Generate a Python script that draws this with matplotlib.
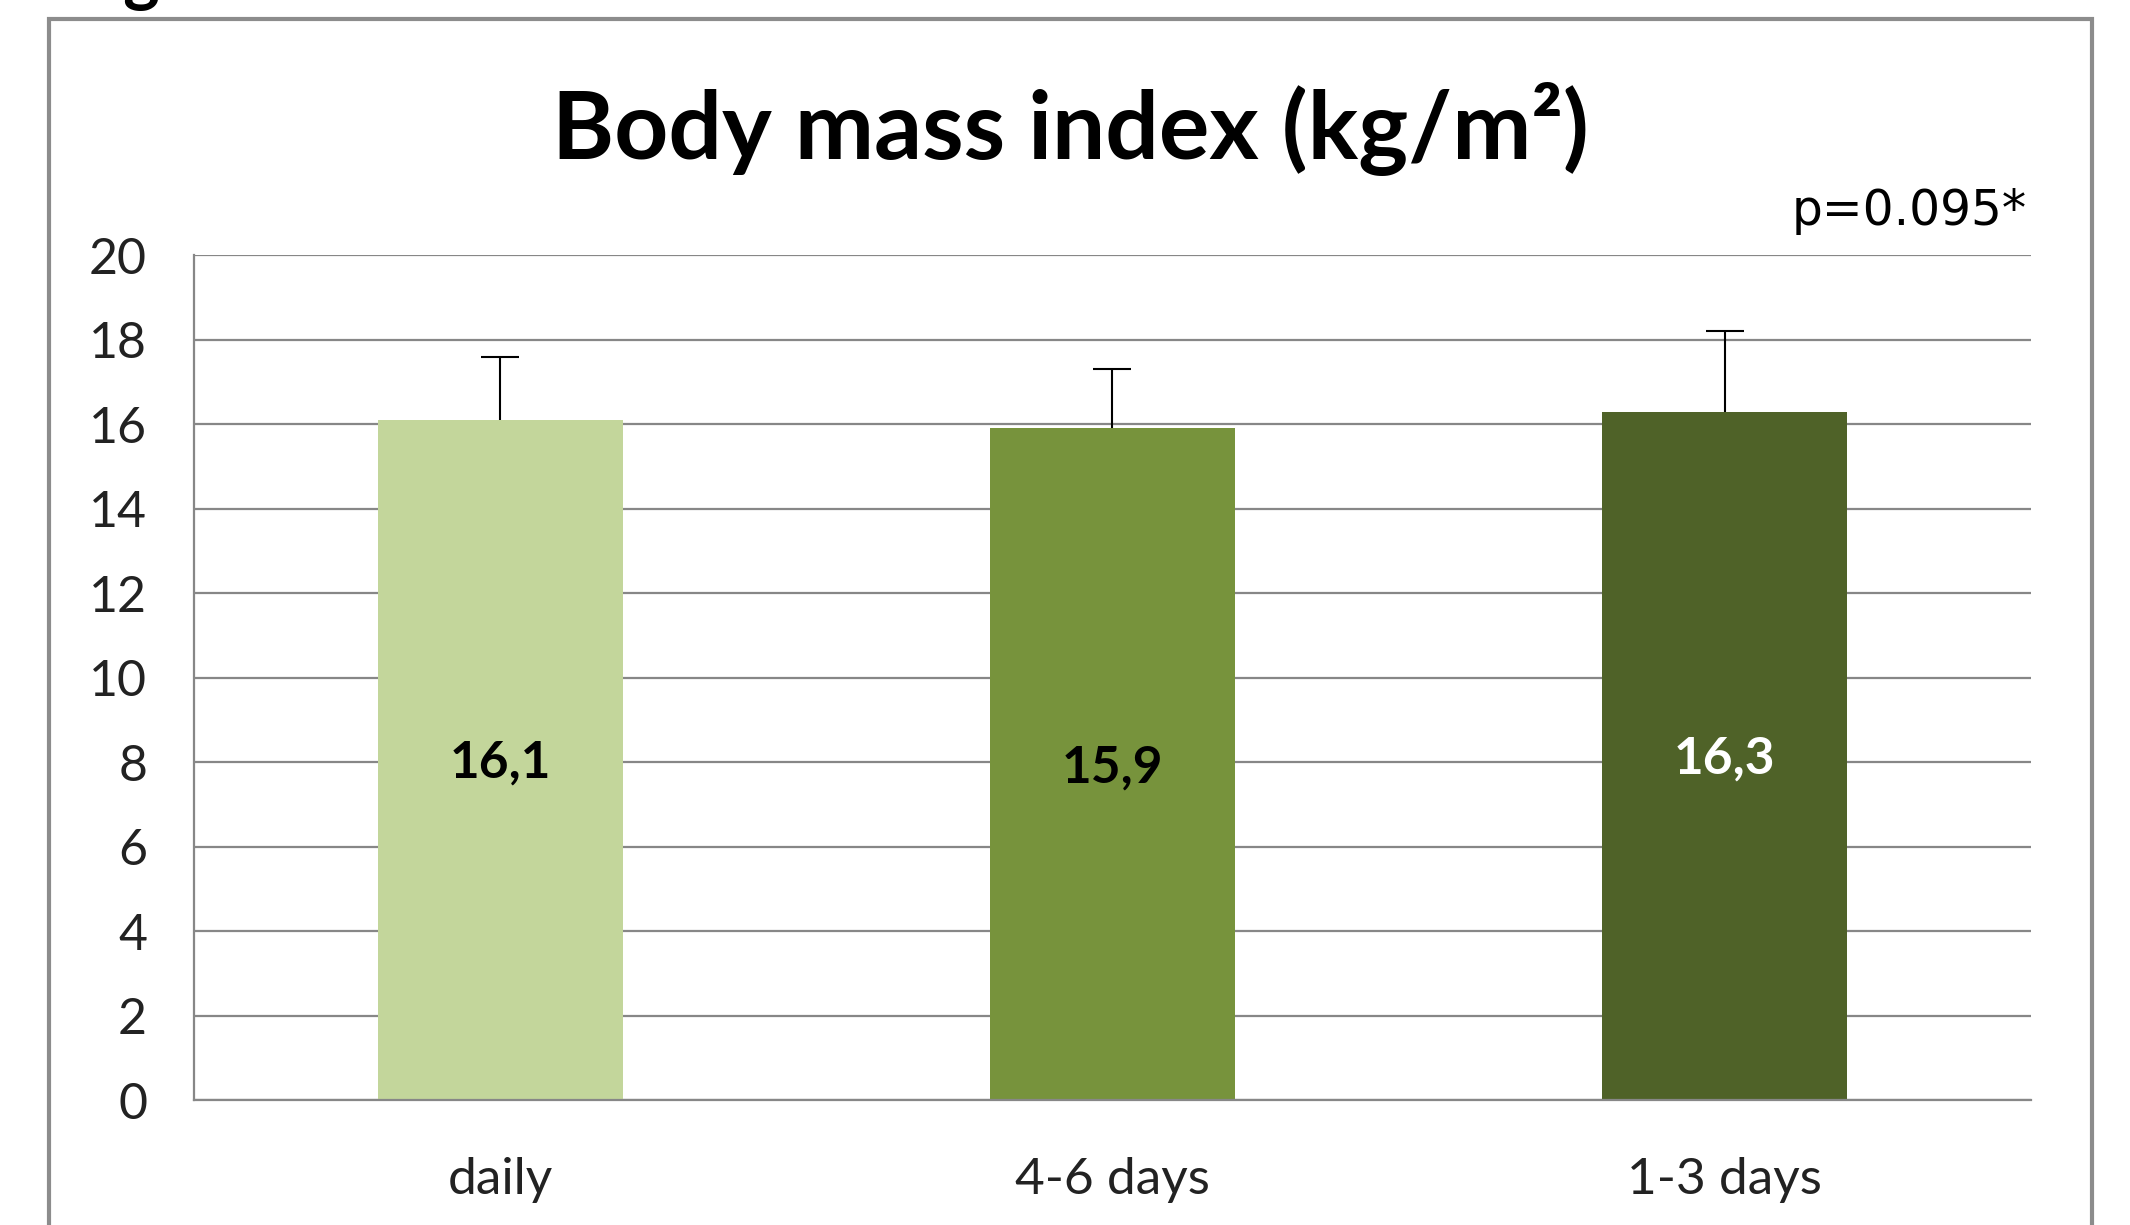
import matplotlib
matplotlib.use('Agg')
import matplotlib.pyplot as plt
from matplotlib.patches import Rectangle

plt.rcParams['font.family'] = ['Lato', 'DejaVu Sans']

# data
categories = ['daily', '4-6 days', '1-3 days']
bmi_mean = [16.1, 15.9, 16.3]
bmi_sd = [1.5, 1.4, 1.9]
value_labels = ['16,1', '15,9', '16,3']
bar_colors = ['#C3D69B', '#77933C', '#4F6228']
label_colors = ['black', 'black', 'white']
y_ticks = [0, 2, 4, 6, 8, 10, 12, 14, 16, 18, 20]

fig = plt.figure(figsize=(21.3, 12.25), dpi=100)

# outer chart frame
fig.patches.append(Rectangle((0.023, -0.02), 0.959, 1.0045, transform=fig.transFigure,
                             fill=False, edgecolor='#8c8c8c', linewidth=3, zorder=0))
# cut-off caption at the very top
fig.text(0.031, 1.0025, 'Fig', fontsize=50, fontweight='bold', ha='left', va='baseline')

ax = fig.add_axes([0.0912, 0.102, 0.8622, 0.6896])
x = range(len(categories))
ax.bar(x, bmi_mean, width=0.4, color=bar_colors, zorder=2)
eb = ax.errorbar(x, bmi_mean, yerr=[[0] * len(bmi_sd), bmi_sd], fmt='none', ecolor='black',
                 elinewidth=1.5, capsize=14, capthick=1.5, zorder=3)
eb[1][0].set_visible(False)  # no cap on the lower side

for xi, v, lab, c in zip(x, bmi_mean, value_labels, label_colors):
    ax.text(xi, v / 2 - 0.08, lab, ha='center', va='center', fontsize=37, fontweight='bold', color=c, zorder=4)

ax.set_xlim(-0.5, 2.5)
ax.set_ylim(0, 20)
ax.set_yticks(y_ticks)
ax.set_xticks(list(x))
ax.set_xticklabels(categories)
ax.tick_params(axis='both', length=0, colors='#222222')
ax.tick_params(axis='y', pad=34, labelsize=36)
ax.tick_params(axis='x', pad=41, labelsize=37)
ax.yaxis.grid(True, color='#878787', linewidth=1.6, zorder=1)
ax.set_axisbelow(True)
for s in ['top', 'right']:
    ax.spines[s].set_visible(False)
for s in ['left', 'bottom']:
    ax.spines[s].set_color('#878787')
    ax.spines[s].set_linewidth(1.6)

fig.text(0.5025, 0.895, 'Body mass index (kg/m²)', ha='center', va='center', fontsize=68, fontweight='bold')
fig.text(0.9515, 0.828, 'p=0.095*', ha='right', va='center', fontsize=35, family='DejaVu Sans')

fig.savefig('out.png', dpi=100)
